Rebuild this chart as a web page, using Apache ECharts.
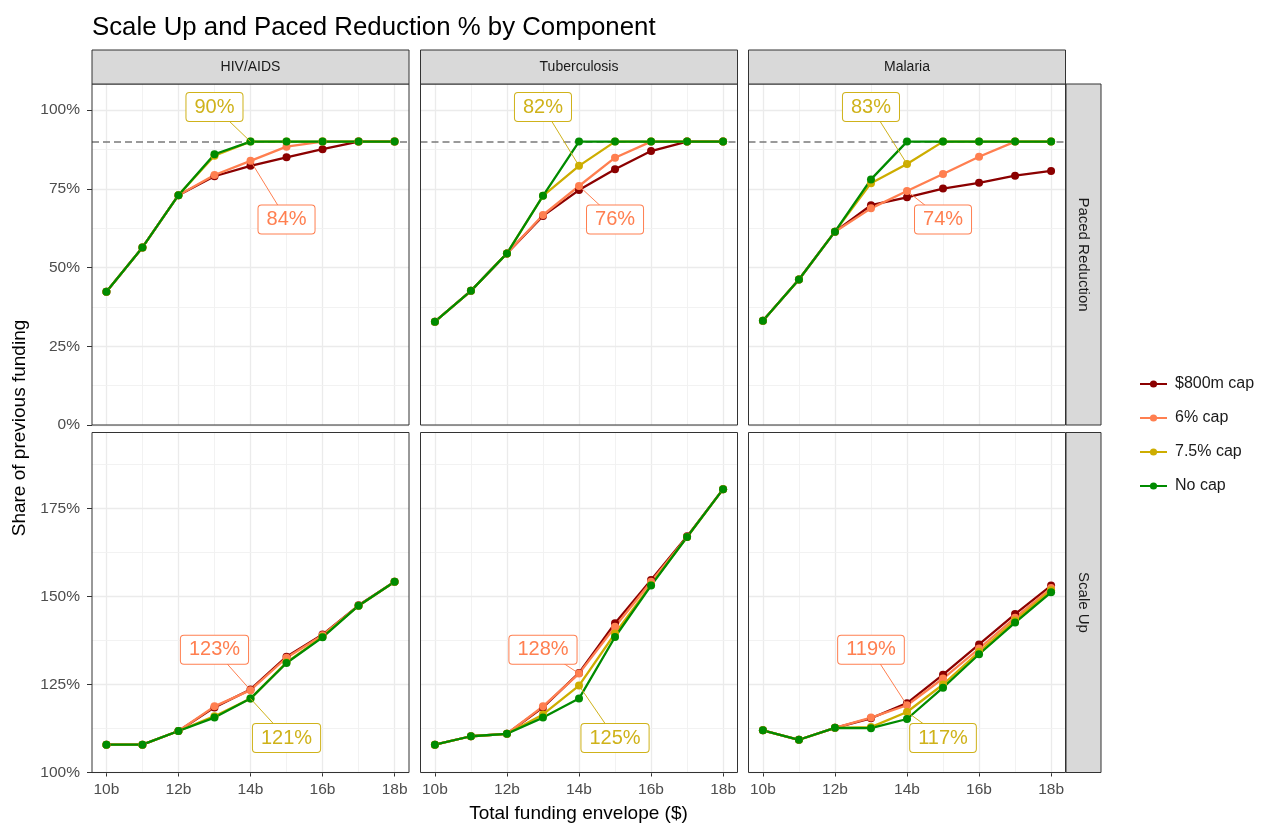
<!DOCTYPE html>
<html><head><meta charset="utf-8">
<script src="https://cdn.jsdelivr.net/npm/echarts@6/dist/echarts.min.js"></script>
<style>html,body{margin:0;padding:0;background:#fff}#c{width:1266px;height:825px}</style>
</head><body><div id="c"></div>
<script>
// ---------- data ----------
const envelopes = [10, 11, 12, 13, 14, 15, 16, 17, 18];
const xTicks = [10, 12, 14, 16, 18];
const xMinor = [11, 13, 15, 17];
const components = ['HIV/AIDS', 'Tuberculosis', 'Malaria'];
const measures = ['Paced Reduction', 'Scale Up'];
const capNames = ['$800m cap', '6% cap', '7.5% cap', 'No cap'];
const pacedTicks = [0, 25, 50, 75, 100];
const pacedMinor = [12.5, 37.5, 62.5, 87.5];
const scaleTicks = [100, 125, 150, 175];
const scaleMinor = [112.5, 137.5, 162.5, 187.5];
const targetLevel = 90;

// Paced Reduction (% of previous funding)
const hivPaced800m = [42.3, 56.4, 73.0, 79.0, 82.3, 85.0, 87.6, 90, 90];
const hivPaced6    = [42.3, 56.4, 73.0, 79.4, 83.9, 88.4, 90, 90, 90];
const hivPaced75   = [42.3, 56.4, 73.0, 85.5, 90, 90, 90, 90, 90];
const hivPacedNo   = [42.3, 56.4, 73.0, 86.0, 90, 90, 90, 90, 90];

const tbPaced800m = [32.8, 42.6, 54.5, 66.4, 74.6, 81.2, 87.0, 90, 90];
const tbPaced6    = [32.8, 42.6, 54.5, 66.7, 75.9, 84.9, 90, 90, 90];
const tbPaced75   = [32.8, 42.6, 54.5, 72.8, 82.3, 90, 90, 90, 90];
const tbPacedNo   = [32.8, 42.6, 54.5, 72.8, 90, 90, 90, 90, 90];

const malPaced800m = [33.1, 46.2, 61.4, 69.8, 72.3, 75.1, 76.9, 79.2, 80.7];
const malPaced6    = [33.1, 46.2, 61.4, 68.8, 74.3, 79.7, 85.2, 90, 90];
const malPaced75   = [33.1, 46.2, 61.4, 76.8, 82.9, 90, 90, 90, 90];
const malPacedNo   = [33.1, 46.2, 61.4, 78.0, 90, 90, 90, 90, 90];

// Scale Up (% of previous funding)
const hivScale800m = [107.9, 107.9, 111.8, 118.5, 123.6, 132.9, 139.2, 147.5, 154.2];
const hivScale6    = [107.9, 107.9, 111.8, 118.8, 123.4, 132.6, 139.0, 147.4, 154.2];
const hivScale75   = [107.9, 107.9, 111.8, 116.0, 121.0, 131.3, 138.6, 147.4, 154.2];
const hivScaleNo   = [107.9, 107.9, 111.8, 115.6, 121.0, 131.1, 138.4, 147.4, 154.2];

const tbScale800m = [107.9, 110.3, 111.0, 118.5, 128.3, 142.4, 154.7, 167.1, 180.5];
const tbScale6    = [107.9, 110.3, 111.0, 118.8, 128.1, 141.4, 154.2, 166.9, 180.5];
const tbScale75   = [107.9, 110.3, 111.0, 116.5, 124.7, 139.5, 153.3, 166.9, 180.5];
const tbScaleNo   = [107.9, 110.3, 111.0, 115.6, 121.0, 138.5, 153.1, 166.9, 180.5];

const malScale800m = [112.0, 109.3, 112.7, 115.4, 119.7, 127.8, 136.4, 145.0, 153.1];
const malScale6    = [112.0, 109.3, 112.7, 115.6, 119.1, 126.7, 135.2, 144.0, 152.4];
const malScale75   = [112.0, 109.3, 112.7, 112.9, 117.2, 125.0, 134.3, 143.2, 151.8];
const malScaleNo   = [112.0, 109.3, 112.7, 112.6, 115.2, 124.1, 133.6, 142.6, 151.2];

// ---------- layout / style ----------
const FONT = "'Liberation Sans', Arial, sans-serif";
const capColors = ['#8B0000', '#FF7F50', '#CDAD00', '#008B00'];
const labelColors = ['#8B0000', '#FF7F50', '#CFB21A', '#008B00'];
const colLeft = [92, 420.5, 748.5];
const colWidth = 317;
const rowTop = [84, 432.5];
const rowHeight = [341, 340];
const yExtent = [[0, 108.3], [100, 196.6]];
const xExtent = [9.6, 18.4];

const dataGrid = [
  [[hivPaced800m, hivPaced6, hivPaced75, hivPacedNo],
   [tbPaced800m, tbPaced6, tbPaced75, tbPacedNo],
   [malPaced800m, malPaced6, malPaced75, malPacedNo]],
  [[hivScale800m, hivScale6, hivScale75, hivScaleNo],
   [tbScale800m, tbScale6, tbScale75, tbScaleNo],
   [malScale800m, malScale6, malScale75, malScaleNo]]
];
const yMajor = [pacedTicks, scaleTicks];
const yMinor = [pacedMinor, scaleMinor];

// annotation placement (label anchor in data coords), per row
const annotationPlacement = [
  [{cap: 2, at: 14, lx: 13, ly: 101}, {cap: 1, at: 14, lx: 15, ly: 65.3}],
  [{cap: 1, at: 14, lx: 13, ly: 134.9}, {cap: 2, at: 14, lx: 15, ly: 109.8}]
];

const grids = [], xAxes = [], yAxes = [], series = [], graphics = [];

for (let r = 0; r < 2; r++) {
  for (let c = 0; c < 3; c++) {
    const gi = r * 3 + c;
    grids.push({
      left: colLeft[c], top: rowTop[r], width: colWidth, height: rowHeight[r],
      show: true, borderColor: '#333', borderWidth: 0, backgroundColor: '#fff',
      containLabel: false, outerBoundsMode: 'none'
    });
    xAxes.push({
      gridIndex: gi, type: 'value', min: xExtent[0], max: xExtent[1],
      splitLine: {show: false}, axisLine: {show: false},
      axisTick: {show: r === 1, customValues: xTicks, length: 4, lineStyle: {color: '#333', width: 1}},
      axisLabel: {show: r === 1, customValues: xTicks, formatter: v => v + 'b',
        color: '#4D4D4D', fontSize: 15.5, margin: 9, fontFamily: FONT}
    });
    yAxes.push({
      gridIndex: gi, type: 'value', min: yExtent[r][0], max: yExtent[r][1],
      splitLine: {show: false}, axisLine: {show: false},
      axisTick: {show: c === 0, customValues: yMajor[r], length: 5, lineStyle: {color: '#333', width: 1}},
      axisLabel: {show: c === 0, customValues: yMajor[r], formatter: v => v + '%',
        color: '#4D4D4D', fontSize: 15.5, margin: 12, fontFamily: FONT}
    });

    // gridlines
    const gl = [];
    xTicks.forEach(v => gl.push({xAxis: v, lineStyle: {color: '#EBEBEB', width: 1.3, type: 'solid'}}));
    xMinor.forEach(v => gl.push({xAxis: v, lineStyle: {color: '#F0F0F0', width: 0.9, type: 'solid'}}));
    yMajor[r].forEach(v => gl.push({yAxis: v, lineStyle: {color: '#EBEBEB', width: 1.3, type: 'solid'}}));
    yMinor[r].forEach(v => gl.push({yAxis: v, lineStyle: {color: '#F0F0F0', width: 0.9, type: 'solid'}}));
    series.push({
      type: 'line', xAxisIndex: gi, yAxisIndex: gi, data: [], silent: true, z: 1,
      markLine: {silent: true, z: 1, symbol: ['none', 'none'], label: {show: false},
        emphasis: {disabled: true}, animation: false, data: gl}
    });
    if (r === 0) {
      series.push({
        type: 'line', xAxisIndex: gi, yAxisIndex: gi, data: [], silent: true, z: 1,
        markLine: {silent: true, z: 1, symbol: ['none', 'none'], label: {show: false},
          emphasis: {disabled: true}, animation: false,
          lineStyle: {color: '#7A7A7A', width: 1.6, type: [7, 4]},
          data: [{yAxis: targetLevel}]}
      });
    }

    // data series
    dataGrid[r][c].forEach((arr, k) => {
      series.push({
        type: 'line', name: capNames[k], xAxisIndex: gi, yAxisIndex: gi,
        data: envelopes.map((x, i) => [x, arr[i]]),
        symbol: 'circle', symbolSize: 8, showSymbol: true,
        lineStyle: {width: 2.3, color: capColors[k]}, itemStyle: {color: capColors[k]},
        z: 2, emphasis: {disabled: true}, silent: true
      });
    });

    // annotations
    annotationPlacement[r].forEach(a => {
      const val = dataGrid[r][c][a.cap][envelopes.indexOf(a.at)];
      const col = labelColors[a.cap];
      series.push({
        type: 'line', xAxisIndex: gi, yAxisIndex: gi, silent: true, z: 3,
        data: [[a.lx, a.ly], [a.at, val]], symbol: 'none',
        lineStyle: {width: 1, color: col}, emphasis: {disabled: true}
      });
      series.push({
        type: 'scatter', xAxisIndex: gi, yAxisIndex: gi, silent: true, z: 4,
        data: [[a.lx, a.ly]], symbol: 'rect', symbolSize: 2,
        itemStyle: {color: 'rgba(255,255,255,0)'},
        label: {show: true, position: 'inside', formatter: Math.round(val) + '%',
          color: col, opacity: 1, fontSize: 20, fontFamily: FONT, backgroundColor: '#fff',
          borderColor: col, borderWidth: 1, borderRadius: 3, padding: [4, 8]},
        labelLayout: {hideOverlap: false},
        emphasis: {disabled: true}
      });
    });
  }
}

// panel borders
for (let r = 0; r < 2; r++) {
  for (let c = 0; c < 3; c++) {
    graphics.push({type: 'rect', silent: true, z: 9,
      shape: {x: colLeft[c], y: rowTop[r], width: colWidth, height: rowHeight[r]},
      style: {fill: 'none', stroke: '#333', lineWidth: 1}});
  }
}
// strips
components.forEach((name, c) => {
  graphics.push({type: 'rect', shape: {x: colLeft[c], y: 50, width: colWidth, height: 34},
    style: {fill: '#D9D9D9', stroke: '#333', lineWidth: 1}, z: 10});
  graphics.push({type: 'text', x: colLeft[c] + colWidth / 2, y: 67, z: 11,
    style: {text: name, fontSize: 14, fontFamily: FONT, fill: '#1A1A1A', align: 'center', verticalAlign: 'middle'}});
});
measures.forEach((name, r) => {
  graphics.push({type: 'rect', shape: {x: 1066, y: rowTop[r], width: 35, height: rowHeight[r]},
    style: {fill: '#D9D9D9', stroke: '#333', lineWidth: 1}, z: 10});
  graphics.push({type: 'text', x: 1083.5, y: rowTop[r] + rowHeight[r] / 2, rotation: -Math.PI / 2, z: 11,
    style: {text: name, fontSize: 15, fontFamily: FONT, fill: '#1A1A1A', align: 'center', verticalAlign: 'middle'}});
});
// axis titles
graphics.push({type: 'text', x: 20, y: 428, rotation: Math.PI / 2, z: 11,
  style: {text: 'Share of previous funding', fontSize: 19, fontFamily: FONT, fill: '#000', align: 'center', verticalAlign: 'middle'}});
graphics.push({type: 'text', x: 578.5, y: 814, z: 11,
  style: {text: 'Total funding envelope ($)', fontSize: 19, fontFamily: FONT, fill: '#000', align: 'center', verticalAlign: 'middle'}});

const chart = echarts.init(document.getElementById('c'), null, {renderer: 'canvas'});
chart.setOption({
  animation: false,
  backgroundColor: '#fff',
  title: {text: 'Scale Up and Paced Reduction % by Component', left: 92, top: 15, padding: 0,
    textStyle: {fontSize: 25.8, fontWeight: 'normal', color: '#000', fontFamily: FONT}},
  legend: {orient: 'vertical', left: 1134, top: 371, itemWidth: 27, itemHeight: 9, itemGap: 18,
    data: capNames, selectedMode: false,
    textStyle: {fontSize: 16, color: '#1A1A1A', fontFamily: FONT, padding: [0, 0, 0, 3]}},
  grid: grids, xAxis: xAxes, yAxis: yAxes, series: series, graphic: graphics
});
</script></body></html>
